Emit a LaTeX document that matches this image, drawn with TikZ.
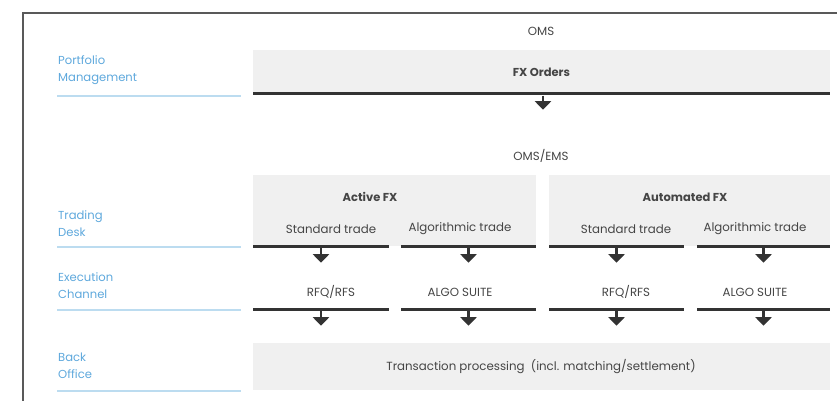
\documentclass[tikz,border=0pt]{standalone}
\usepackage{fontspec}
\setmainfont{Poppins}
\usetikzlibrary{arrows.meta}
\definecolor{boxGray}{HTML}{F0F0F0}
\definecolor{lineDark}{HTML}{333333}
\definecolor{textDark}{HTML}{454545}
\definecolor{labelBlue}{HTML}{5EA8DC}
\definecolor{ruleBlue}{HTML}{BCDCF0}
\definecolor{frameGray}{HTML}{595959}
\tikzset{
	grayBox/.style={fill=boxGray, draw=none, inner sep=0pt},
	barNode/.style={fill=lineDark, draw=none, inner sep=0pt, minimum height=3pt},
	flowArrow/.style={line width=2.6pt, draw=lineDark, -{Triangle[width=16pt,length=8.5pt]}},
	plainText/.style={font=\fontsize{11.8}{13}\selectfont, text=textDark, inner sep=0pt},
	boldText/.style={plainText, font=\fontsize{11.5}{13}\selectfont\bfseries},
	rowLabel/.style={font=\fontsize{11.6}{17}\selectfont, text=labelBlue, align=left, anchor=west, inner sep=0pt},
	labelRule/.style={draw=ruleBlue, line width=1.2pt}
}
\newcommand{\drawRowLabel}[4]{
	\node[rowLabel] (#1) at (58,#2) {#3};
	\draw[labelRule] (57,#4) -- (241,#4);
}
\newcommand{\drawBar}[3]{
	\node[barNode, minimum width=#3] (#1) at #2 {};
}

\begin{document}
\begin{tikzpicture}[x=1pt, y=-1pt]
		\useasboundingbox (0,0) rectangle (837,401);
		\draw[frameGray, line width=2pt] (23,402) -- (23,13) -- (838,13);

		% left column
		\drawRowLabel{pmLabel}{70.5}{Portfolio\\Management}{96}
		\drawRowLabel{tdLabel}{223.5}{Trading\\Desk}{247}
		\drawRowLabel{ecLabel}{285.5}{Execution\\Channel}{310}
		\drawRowLabel{boLabel}{365.5}{Back\\Office}{391}

		% OMS
		\node[plainText] (oms) at (541,31) {OMS};
		\node[grayBox, minimum width=577pt, minimum height=44pt] (fxBox) at (541.5,72) {};
		\node[boldText] (fxOrders) at (fxBox.center) {FX Orders};
		\drawBar{fxBar}{(541.5,94)}{577pt}
		\draw[flowArrow] (fxBar.south) ++(1.5,0) -- ++(0,14);

		% OMS/EMS
		\node[plainText] (omsEms) at (541,156) {OMS/EMS};
		\node[grayBox, minimum width=283pt, minimum height=71pt] (activeBox) at (394.5,210.5) {};
		\node[grayBox, minimum width=281pt, minimum height=71pt] (autoBox) at (689.5,210.5) {};
		\node[boldText] (activeFX) at (370,197) {Active FX};
		\node[boldText] (autoFX) at (685,197) {Automated FX};

		\node[plainText] (stdA) at (331,229) {Standard trade};
		\node[plainText] (algoA) at (460,229) {Algorithmic trade};
		\node[plainText] (stdB) at (626,229) {Standard trade};
		\node[plainText] (algoB) at (755,229) {Algorithmic trade};

		\drawBar{tdBarA}{(321,246)}{136pt}
		\drawBar{tdBarB}{(468.5,246)}{135pt}
		\drawBar{tdBarC}{(616.5,246)}{135pt}
		\drawBar{tdBarD}{(763.5,246)}{133pt}

		% execution channel
		\node[plainText] (rfqA) at (331,292) {RFQ/RFS};
		\node[plainText] (suiteA) at (460,292) {ALGO SUITE};
		\node[plainText] (rfqB) at (626,292) {RFQ/RFS};
		\node[plainText] (suiteB) at (755,292) {ALGO SUITE};

		\drawBar{ecBarA}{(321,309)}{136pt}
		\drawBar{ecBarB}{(468.5,309)}{135pt}
		\drawBar{ecBarC}{(616.5,309)}{135pt}
		\drawBar{ecBarD}{(763.5,309)}{133pt}

		\foreach \n in {A,B,C,D} {
			\draw[flowArrow] (tdBar\n.south) -- ++(0,15);
			\draw[flowArrow] (ecBar\n.south) -- ++(0,15);
		}

		% back office
		\node[grayBox, minimum width=577pt, minimum height=47pt] (boBox) at (541.5,366.5) {};
		\node[plainText] (txProc) at (541,367) {Transaction processing\ \ (incl. matching/settlement)};
	\end{tikzpicture}
\end{document}
